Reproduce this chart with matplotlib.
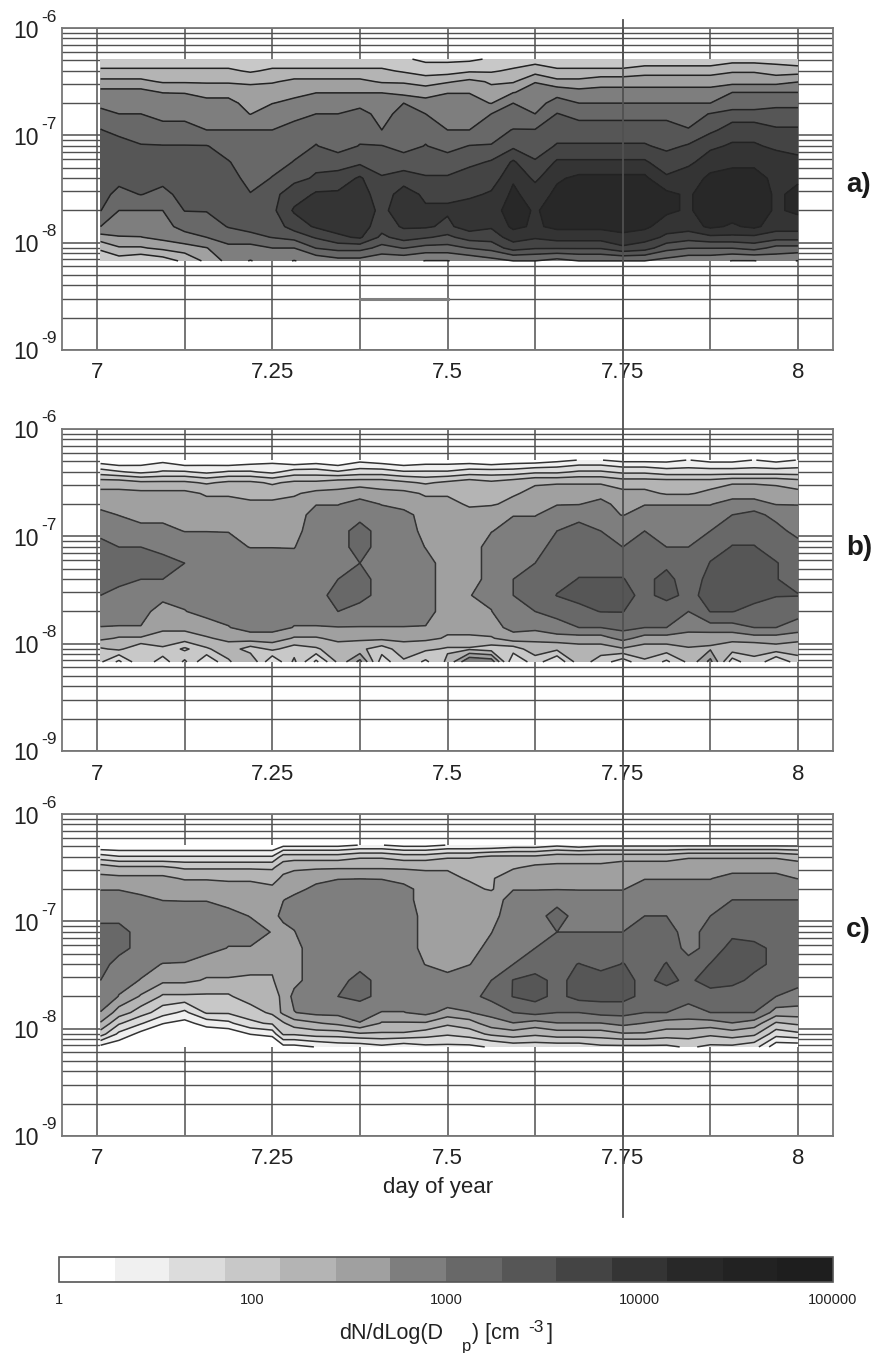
"""Size distribution contour panels, day 7 to 8."""

import matplotlib
import matplotlib.pyplot as plt
import numpy as np
from matplotlib.cm import ScalarMappable
from matplotlib.colors import BoundaryNorm, ListedColormap
from matplotlib.lines import Line2D
from matplotlib.ticker import LogLocator, NullFormatter
from matplotlib.transforms import blended_transform_factory

matplotlib.use("Agg")

plt.rcParams["font.family"] = ["Liberation Sans", "DejaVu Sans"]

W, H = 876, 1353

TIMES = [7.005, 7.03125, 7.0625, 7.09375, 7.125, 7.15625, 7.1875, 7.21875, 7.25,
         7.28125, 7.3125, 7.34375, 7.375, 7.40625, 7.4375, 7.46875, 7.5,
         7.53125, 7.5625, 7.59375, 7.625, 7.65625, 7.6875, 7.71875, 7.75,
         7.78125, 7.8125, 7.84375, 7.875, 7.90625, 7.9375, 7.96875, 8.0]
# panel c has a jump just after 7.25
TIMES_C = TIMES[:9] + [7.2656] + TIMES[9:]

LOG_DIAMETERS = [-6.29, -6.40, -6.50, -6.60, -6.70, -6.80, -6.95, -7.10,
                 -7.25, -7.40, -7.55, -7.70, -7.85, -7.95, -8.05, -8.17]

# log10(dN/dLogDp), one list per time, largest diameter first
PANEL_A = [
    [1.9, 2.2, 2.5, 2.8, 2.9, 3.1, 3.3, 3.5, 3.5, 3.5, 3.4, 3.3, 3.0, 2.6, 2.2, 1.9],
    [1.9, 2.2, 2.5, 2.8, 2.9, 3.0, 3.2, 3.4, 3.4, 3.4, 3.2, 3.0, 2.8, 2.7, 2.4, 2.0],
    [1.9, 2.2, 2.5, 2.8, 2.9, 3.0, 3.2, 3.3, 3.4, 3.4, 3.3, 3.0, 2.9, 2.7, 2.4, 1.9],
    [1.9, 2.2, 2.4, 2.7, 2.9, 2.9, 3.1, 3.3, 3.4, 3.4, 3.2, 3.0, 2.9, 2.8, 2.5, 2.0],
    [1.9, 2.2, 2.4, 2.7, 2.8, 2.9, 3.1, 3.3, 3.4, 3.4, 3.4, 3.3, 3.1, 2.9, 2.6, 2.2],
    [1.9, 2.2, 2.4, 2.6, 2.8, 2.9, 3.0, 3.3, 3.4, 3.4, 3.4, 3.3, 3.2, 3.0, 2.7, 2.5],
    [1.9, 2.2, 2.4, 2.6, 2.8, 2.9, 3.0, 3.2, 3.3, 3.4, 3.4, 3.4, 3.3, 3.2, 2.9, 2.8],
    [1.9, 2.1, 2.4, 2.5, 2.6, 2.7, 3.0, 3.1, 3.2, 3.2, 3.3, 3.4, 3.4, 3.2, 2.9, 2.7],
    [1.9, 2.2, 2.4, 2.6, 2.7, 2.9, 3.0, 3.2, 3.2, 3.3, 3.5, 3.5, 3.4, 3.3, 3.0, 2.8],
    [1.9, 2.2, 2.5, 2.6, 2.8, 2.9, 3.1, 3.2, 3.3, 3.5, 3.7, 3.9, 3.7, 3.4, 3.0, 2.7],
    [1.9, 2.2, 2.5, 2.7, 2.9, 3.0, 3.2, 3.3, 3.5, 3.6, 3.9, 4.0, 3.9, 3.6, 3.3, 2.8],
    [1.9, 2.2, 2.5, 2.7, 2.9, 3.0, 3.1, 3.2, 3.4, 3.7, 3.9, 4.0, 4.0, 3.8, 3.4, 2.9],
    [1.9, 2.2, 2.5, 2.7, 2.9, 3.1, 3.2, 3.3, 3.5, 3.9, 4.0, 4.0, 4.0, 3.9, 3.4, 2.9],
    [1.9, 2.2, 2.4, 2.7, 2.9, 2.9, 3.0, 3.3, 3.4, 3.6, 3.7, 3.8, 3.7, 3.5, 3.2, 2.8],
    [1.9, 2.1, 2.4, 2.6, 3.0, 3.1, 3.2, 3.2, 3.4, 3.7, 4.0, 4.0, 3.9, 3.7, 3.3, 2.8],
    [1.8, 2.0, 2.3, 2.6, 2.8, 3.0, 3.2, 3.3, 3.4, 3.6, 3.8, 3.9, 3.9, 3.6, 3.2, 2.7],
    [1.8, 2.0, 2.4, 2.7, 2.8, 2.9, 3.0, 3.2, 3.4, 3.6, 3.8, 3.9, 3.8, 3.5, 3.2, 2.7],
    [1.8, 2.1, 2.5, 2.7, 2.8, 2.9, 3.0, 3.3, 3.5, 3.7, 3.8, 4.0, 4.0, 3.7, 3.3, 2.8],
    [1.9, 2.1, 2.4, 2.5, 2.7, 3.0, 3.2, 3.3, 3.6, 3.7, 3.9, 4.0, 3.9, 3.7, 3.4, 2.9],
    [1.9, 2.2, 2.4, 2.7, 3.0, 3.1, 3.3, 3.5, 3.9, 4.1, 4.2, 4.3, 4.2, 4.0, 3.7, 3.0],
    [2.0, 2.3, 2.7, 2.8, 2.9, 3.0, 3.3, 3.4, 3.6, 3.8, 4.0, 4.1, 4.1, 3.9, 3.6, 3.0],
    [1.9, 2.2, 2.5, 2.9, 3.1, 3.3, 3.4, 3.6, 3.9, 4.1, 4.2, 4.3, 4.2, 4.0, 3.6, 2.9],
    [1.9, 2.2, 2.5, 2.8, 3.0, 3.2, 3.4, 3.6, 3.9, 4.2, 4.3, 4.3, 4.2, 4.0, 3.6, 3.0],
    [1.9, 2.2, 2.6, 2.8, 3.0, 3.2, 3.4, 3.6, 3.9, 4.2, 4.3, 4.3, 4.2, 4.0, 3.6, 3.0],
    [1.9, 2.2, 2.6, 2.8, 3.0, 3.2, 3.4, 3.6, 3.9, 4.2, 4.3, 4.3, 4.2, 4.1, 3.8, 3.0],
    [1.9, 2.3, 2.6, 2.8, 3.0, 3.2, 3.4, 3.6, 3.9, 4.2, 4.3, 4.3, 4.2, 4.0, 3.7, 3.0],
    [1.9, 2.3, 2.6, 2.8, 3.0, 3.2, 3.4, 3.5, 3.7, 3.9, 4.2, 4.2, 4.0, 3.8, 3.4, 2.9],
    [1.9, 2.3, 2.6, 2.8, 3.0, 3.2, 3.3, 3.6, 3.8, 4.0, 4.1, 4.1, 4.0, 3.7, 3.3, 2.8],
    [1.9, 2.3, 2.6, 2.8, 3.0, 3.3, 3.5, 3.8, 4.0, 4.2, 4.3, 4.3, 4.2, 3.8, 3.3, 2.8],
    [2.0, 2.4, 2.6, 3.0, 3.1, 3.4, 3.7, 3.9, 4.1, 4.2, 4.3, 4.3, 4.1, 3.8, 3.3, 2.7],
    [2.0, 2.4, 2.6, 3.0, 3.1, 3.4, 3.7, 3.9, 4.1, 4.2, 4.3, 4.3, 4.2, 3.8, 3.4, 2.7],
    [2.0, 2.3, 2.6, 3.0, 3.2, 3.4, 3.6, 3.8, 4.0, 4.1, 4.1, 4.1, 4.0, 3.7, 3.2, 2.8],
    [1.9, 2.3, 2.7, 3.0, 3.2, 3.4, 3.6, 3.8, 3.9, 4.1, 4.2, 4.2, 4.0, 3.7, 3.2, 2.7],
]

PANEL_B = [
    [1.1, 1.7, 2.3, 2.5, 2.6, 2.8, 2.9, 3.1, 3.2, 3.2, 3.0, 2.9, 2.7, 2.5, 2.1, 1.9],
    [1.0, 1.6, 2.3, 2.5, 2.6, 2.7, 2.9, 3.0, 3.1, 3.1, 2.9, 2.8, 2.7, 2.4, 2.2, 1.5],
    [1.1, 1.5, 2.2, 2.5, 2.6, 2.6, 2.8, 3.0, 3.1, 3.0, 2.9, 2.8, 2.7, 2.4, 1.9, 2.1],
    [1.2, 1.6, 2.2, 2.5, 2.6, 2.6, 2.8, 2.9, 3.1, 3.0, 2.8, 2.6, 2.5, 2.3, 2.1, 1.7],
    [1.0, 1.6, 2.2, 2.5, 2.6, 2.6, 2.7, 2.9, 3.0, 3.0, 2.8, 2.7, 2.5, 2.3, 1.8, 2.2],
    [1.1, 1.5, 2.1, 2.4, 2.5, 2.6, 2.7, 2.9, 3.0, 3.0, 2.9, 2.8, 2.6, 2.4, 2.1, 1.6],
    [1.0, 1.6, 2.2, 2.4, 2.5, 2.6, 2.7, 2.8, 2.9, 3.0, 2.9, 2.8, 2.7, 2.5, 2.3, 2.1],
    [1.1, 1.6, 2.2, 2.3, 2.5, 2.6, 2.6, 2.7, 2.9, 2.9, 2.9, 2.8, 2.8, 2.6, 2.0, 2.4],
    [1.2, 1.5, 2.1, 2.3, 2.5, 2.6, 2.6, 2.7, 2.9, 2.9, 2.9, 2.9, 2.8, 2.6, 2.2, 1.6],
    [1.0, 1.7, 2.2, 2.4, 2.5, 2.6, 2.6, 2.7, 2.8, 2.9, 2.9, 2.8, 2.7, 2.4, 2.0, 2.2],
    [1.1, 1.7, 2.2, 2.5, 2.7, 2.8, 2.9, 2.9, 2.9, 2.9, 2.9, 2.8, 2.7, 2.4, 2.1, 1.5],
    [1.0, 1.6, 2.3, 2.5, 2.7, 2.8, 2.9, 2.9, 2.9, 3.0, 3.1, 3.0, 2.7, 2.5, 2.3, 2.2],
    [1.2, 1.7, 2.3, 2.6, 2.8, 2.9, 3.1, 3.1, 3.0, 3.1, 3.1, 2.9, 2.7, 2.5, 2.2, 2.8],
    [1.1, 1.7, 2.3, 2.5, 2.7, 2.8, 2.9, 2.9, 2.9, 2.9, 2.9, 2.9, 2.7, 2.5, 2.0, 1.7],
    [1.0, 1.6, 2.2, 2.5, 2.6, 2.8, 2.9, 2.9, 2.9, 2.9, 2.9, 2.9, 2.7, 2.5, 2.3, 2.1],
    [1.1, 1.6, 2.1, 2.4, 2.5, 2.6, 2.6, 2.7, 2.8, 2.8, 2.8, 2.8, 2.7, 2.5, 2.2, 1.8],
    [1.1, 1.6, 2.2, 2.4, 2.5, 2.5, 2.6, 2.6, 2.6, 2.6, 2.6, 2.6, 2.5, 2.4, 2.1, 2.2],
    [1.1, 1.7, 2.3, 2.4, 2.4, 2.5, 2.6, 2.6, 2.6, 2.6, 2.7, 2.7, 2.5, 2.4, 2.1, 3.0],
    [1.0, 1.7, 2.2, 2.3, 2.4, 2.6, 2.7, 2.8, 2.8, 2.8, 2.8, 2.7, 2.6, 2.4, 2.0, 2.9],
    [1.1, 1.7, 2.3, 2.4, 2.5, 2.7, 2.8, 2.9, 3.0, 3.0, 3.0, 3.0, 2.8, 2.6, 2.0, 1.6],
    [1.1, 1.8, 2.4, 2.5, 2.6, 2.7, 2.8, 2.9, 3.0, 3.1, 3.1, 3.0, 2.8, 2.5, 2.3, 2.0],
    [1.2, 1.8, 2.4, 2.6, 2.7, 2.8, 3.0, 3.1, 3.1, 3.2, 3.3, 3.1, 2.9, 2.6, 2.2, 1.6],
    [1.3, 1.9, 2.4, 2.6, 2.7, 2.9, 3.1, 3.2, 3.2, 3.3, 3.4, 3.2, 3.0, 2.6, 2.3, 2.3],
    [1.3, 1.9, 2.4, 2.6, 2.8, 2.8, 3.0, 3.1, 3.2, 3.3, 3.4, 3.3, 3.0, 2.6, 2.3, 2.0],
    [1.2, 1.8, 2.3, 2.5, 2.6, 2.7, 2.9, 3.0, 3.2, 3.3, 3.4, 3.3, 3.1, 2.8, 2.4, 1.7],
    [1.2, 1.8, 2.3, 2.5, 2.7, 2.8, 3.0, 3.1, 3.2, 3.2, 3.2, 3.1, 3.0, 2.6, 2.3, 2.1],
    [1.2, 1.7, 2.3, 2.4, 2.7, 2.8, 2.9, 3.0, 3.2, 3.4, 3.4, 3.1, 3.0, 2.6, 2.3, 1.8],
    [1.3, 1.7, 2.3, 2.4, 2.7, 2.8, 2.9, 3.0, 3.1, 3.1, 3.2, 3.0, 2.8, 2.6, 2.4, 2.2],
    [1.2, 1.7, 2.3, 2.5, 2.7, 2.8, 3.0, 3.2, 3.3, 3.4, 3.4, 3.3, 2.9, 2.5, 2.4, 2.8],
    [1.2, 1.7, 2.4, 2.6, 2.8, 3.0, 3.2, 3.3, 3.4, 3.4, 3.4, 3.3, 2.9, 2.5, 2.3, 1.7],
    [1.3, 1.7, 2.4, 2.6, 2.8, 3.1, 3.2, 3.3, 3.4, 3.4, 3.4, 3.2, 3.0, 2.6, 2.2, 2.1],
    [1.2, 1.7, 2.4, 2.5, 2.7, 2.9, 3.1, 3.2, 3.3, 3.3, 3.3, 3.2, 3.0, 2.6, 2.3, 1.6],
    [1.3, 1.7, 2.3, 2.5, 2.7, 2.8, 2.9, 3.1, 3.2, 3.2, 3.3, 3.1, 2.9, 2.5, 2.3, 2.0],
]

PANEL_C = [
    [1.0, 1.7, 2.3, 2.5, 2.7, 2.8, 2.9, 3.1, 3.2, 3.1, 3.0, 2.9, 2.7, 2.4, 2.0, 1.2],
    [1.0, 1.6, 2.2, 2.5, 2.7, 2.8, 2.9, 3.1, 3.1, 2.9, 2.8, 2.7, 2.3, 1.9, 1.5, 1.1],
    [1.0, 1.6, 2.2, 2.5, 2.6, 2.8, 2.9, 2.9, 2.9, 2.8, 2.7, 2.4, 2.0, 1.6, 1.2, 1.0],
    [1.0, 1.6, 2.2, 2.5, 2.6, 2.7, 2.9, 2.9, 2.9, 2.7, 2.5, 2.1, 1.7, 1.3, 1.1, 0.9],
    [1.0, 1.6, 2.1, 2.4, 2.6, 2.7, 2.8, 2.9, 2.8, 2.7, 2.5, 2.1, 1.5, 1.2, 1.1, 0.9],
    [1.0, 1.6, 2.1, 2.4, 2.6, 2.7, 2.8, 2.9, 2.8, 2.6, 2.4, 2.1, 1.9, 1.4, 1.1, 0.9],
    [1.0, 1.6, 2.1, 2.4, 2.5, 2.6, 2.8, 2.8, 2.7, 2.6, 2.4, 2.1, 1.9, 1.5, 1.1, 0.9],
    [1.0, 1.6, 2.1, 2.4, 2.5, 2.6, 2.7, 2.8, 2.7, 2.5, 2.4, 2.3, 2.0, 1.8, 1.3, 0.9],
    [1.0, 1.6, 2.1, 2.3, 2.5, 2.6, 2.6, 2.7, 2.6, 2.5, 2.4, 2.3, 2.2, 1.9, 1.4, 0.9],
    [1.2, 2.0, 2.3, 2.5, 2.6, 2.7, 2.8, 2.6, 2.6, 2.6, 2.6, 2.5, 2.5, 2.1, 1.9, 1.2],
    [1.2, 2.0, 2.4, 2.5, 2.6, 2.8, 2.8, 2.7, 2.6, 2.6, 2.6, 2.8, 2.7, 2.3, 1.9, 1.2],
    [1.2, 2.0, 2.4, 2.6, 2.8, 2.9, 2.9, 2.9, 2.9, 2.9, 2.9, 2.9, 2.8, 2.4, 2.0, 1.3],
    [1.2, 2.0, 2.4, 2.7, 2.8, 2.9, 2.9, 2.9, 2.9, 2.9, 2.9, 3.0, 2.8, 2.5, 2.0, 1.4],
    [1.3, 2.1, 2.4, 2.7, 2.9, 2.9, 2.9, 2.9, 2.9, 2.9, 3.1, 3.1, 2.8, 2.7, 2.1, 1.4],
    [1.3, 2.1, 2.4, 2.7, 2.8, 2.9, 2.9, 2.9, 2.9, 2.9, 2.9, 2.9, 2.7, 2.4, 2.1, 1.5],
    [1.2, 2.0, 2.4, 2.6, 2.8, 2.8, 2.9, 2.9, 2.9, 2.9, 2.9, 2.9, 2.7, 2.4, 2.1, 1.4],
    [1.2, 2.0, 2.4, 2.5, 2.6, 2.6, 2.6, 2.6, 2.6, 2.7, 2.9, 2.9, 2.8, 2.4, 2.0, 1.5],
    [1.3, 2.1, 2.4, 2.5, 2.6, 2.6, 2.6, 2.6, 2.6, 2.6, 2.8, 3.0, 2.6, 2.2, 1.9, 1.5],
    [1.3, 2.1, 2.4, 2.4, 2.5, 2.6, 2.6, 2.6, 2.6, 2.7, 2.9, 2.9, 2.7, 2.3, 2.0, 1.5],
    [1.3, 2.2, 2.3, 2.4, 2.4, 2.6, 2.6, 2.7, 2.8, 2.9, 3.0, 3.1, 2.8, 2.6, 2.2, 1.6],
    [1.4, 2.2, 2.4, 2.6, 2.7, 2.8, 2.9, 3.0, 2.9, 3.0, 3.3, 3.3, 3.0, 2.7, 2.3, 1.7],
    [1.4, 2.2, 2.5, 2.6, 2.7, 2.8, 2.9, 2.9, 3.0, 3.1, 3.4, 3.4, 3.1, 2.6, 2.2, 1.7],
    [1.5, 2.3, 2.5, 2.6, 2.7, 2.9, 3.1, 3.0, 3.1, 3.2, 3.2, 3.2, 3.0, 2.7, 2.3, 1.7],
    [1.4, 2.3, 2.5, 2.7, 2.7, 2.8, 2.9, 3.0, 3.1, 3.3, 3.4, 3.4, 3.0, 2.7, 2.3, 1.7],
    [1.5, 2.3, 2.5, 2.6, 2.7, 2.8, 2.9, 3.0, 3.2, 3.2, 3.4, 3.4, 3.1, 2.7, 2.3, 1.8],
    [1.5, 2.3, 2.6, 2.6, 2.7, 2.8, 2.9, 3.0, 3.2, 3.3, 3.4, 3.4, 3.1, 2.8, 2.4, 1.8],
    [1.5, 2.3, 2.6, 2.7, 2.8, 2.9, 3.0, 3.1, 3.2, 3.2, 3.2, 3.2, 3.0, 2.7, 2.4, 1.8],
    [1.5, 2.3, 2.6, 2.7, 2.8, 2.9, 3.0, 3.1, 3.2, 3.3, 3.4, 3.1, 3.0, 2.6, 2.3, 1.8],
    [1.5, 2.4, 2.6, 2.7, 2.8, 2.8, 2.9, 2.9, 2.9, 3.1, 3.2, 3.1, 2.9, 2.6, 2.3, 1.9],
    [1.5, 2.4, 2.6, 2.7, 2.8, 2.9, 3.0, 3.1, 3.1, 3.3, 3.5, 3.1, 3.0, 2.6, 2.2, 1.8],
    [1.5, 2.4, 2.6, 2.8, 2.9, 3.0, 3.1, 3.2, 3.4, 3.4, 3.4, 3.1, 3.0, 2.7, 2.3, 1.8],
    [1.5, 2.4, 2.6, 2.8, 2.9, 3.0, 3.1, 3.1, 3.4, 3.4, 3.2, 3.1, 3.0, 2.6, 2.2, 1.7],
    [1.5, 2.4, 2.6, 2.8, 2.9, 3.0, 3.1, 3.1, 3.2, 3.2, 3.1, 3.0, 2.6, 2.1, 1.7, 1.1],
    [1.5, 2.3, 2.6, 2.7, 2.9, 3.0, 3.1, 3.1, 3.2, 3.2, 3.1, 2.9, 2.6, 2.2, 1.8, 1.1],
]

X_TICKS = [7, 7.125, 7.25, 7.375, 7.5, 7.625, 7.75, 7.875, 8]
X_LABELS = ["7", "", "7.25", "", "7.5", "", "7.75", "", "8"]
Y_EXPONENTS = [-6, -7, -8, -9]
PANEL_NAMES = ["a)", "b)", "c)"]

BAND_EDGES = [1.0, 1.29, 1.57, 1.86, 2.14, 2.43, 2.71, 3.0, 3.29, 3.57, 3.86, 4.14, 4.43, 4.71, 5.0]
BAND_GREYS = ["#ffffff", "#f0f0f0", "#dcdcdc", "#c8c8c8", "#b4b4b4", "#a0a0a0", "#7e7e7e",
              "#686868", "#565656", "#444444", "#343434", "#282828", "#222222", "#1e1e1e"]
BAR_TICKS = [1, 2, 3, 4, 5]
BAR_LABELS = ["1", "100", "1000", "10000", "100000"]

LINE_GREY = "#505050"


def px_axes(fig, left, top, right, bottom):
    """Axes placed with pixel edges counted from the top left."""
    return fig.add_axes([left / W, 1 - bottom / H, (right - left) / W, (bottom - top) / H])


def fig_text(fig, x, y, s, **kwargs):
    kwargs.setdefault("ha", "left")
    kwargs.setdefault("va", "center")
    kwargs.setdefault("color", "#222222")
    return fig.text(x / W, 1 - y / H, s, **kwargs)


fig = plt.figure(figsize=(W / 100, H / 100), dpi=100)

cmap = ListedColormap(BAND_GREYS)
cmap.set_under("#ffffff")
norm = BoundaryNorm(BAND_EDGES, cmap.N)
diameters = 10.0 ** np.array(LOG_DIAMETERS)

panels = [
    (PANEL_A, TIMES, 28, 350, 185, "#222222"),
    (PANEL_B, TIMES, 429, 751, 548, "#333333"),
    (PANEL_C, TIMES_C, 814, 1136, 930, "#333333"),
]

axes = []
for (values, times, top, bottom, name_y, line_col), name in zip(panels, PANEL_NAMES):
    ax = px_axes(fig, 62, top, 833, bottom)
    axes.append(ax)
    z = np.array(values).T
    ax.contourf(times, diameters, z, levels=BAND_EDGES, cmap=cmap, norm=norm, extend="min", zorder=3)
    ax.contour(times, diameters, z, levels=BAND_EDGES[1:], colors=line_col, linewidths=1.1, zorder=4)

    ax.set_yscale("log")
    ax.set_xlim(6.95, 8.05)
    ax.set_ylim(1e-9, 1e-6)
    ax.set_xticks(X_TICKS)
    ax.set_xticklabels(X_LABELS, fontsize=16, color="#222222")
    ax.set_yticks([10.0**e for e in Y_EXPONENTS])
    ax.yaxis.set_major_formatter(NullFormatter())
    ax.yaxis.set_minor_formatter(NullFormatter())
    ax.yaxis.set_minor_locator(LogLocator(base=10, subs=range(2, 10), numticks=12))
    ax.tick_params(which="both", length=0)
    ax.tick_params(axis="x", pad=9)
    ax.grid(True, which="major", color=LINE_GREY, linewidth=1.1, zorder=1)
    ax.grid(True, which="minor", axis="y", color=LINE_GREY, linewidth=1.0, zorder=1)
    ax.set_axisbelow(True)
    for spine in ax.spines.values():
        spine.set_color("#777777")
        spine.set_linewidth(1.3)

    for e in Y_EXPONENTS:
        offset = (-6 - e) * 107.3
        fig_text(fig, 13, top + offset + 3, "10", fontsize=16.5)
        fig_text(fig, 41, top + offset - 11, str(e), fontsize=12.5)

    fig_text(fig, 846, name_y, name, fontsize=20, fontweight="bold", color="#1a1a1a")

# stray stroke on the scanned first panel
axes[0].plot([7.375, 7.5], [3e-9, 3e-9], color="#808080", linewidth=2.2, zorder=2)

# the long vertical marker runs over all panels
marker_trans = blended_transform_factory(axes[0].transData, fig.transFigure)
fig.add_artist(Line2D([7.75, 7.75], [1 - 20 / H, 1 - 1217 / H], transform=marker_trans,
                      color="#505050", linewidth=1.3, zorder=10))

fig_text(fig, 438, 1187, "day of year", ha="center", fontsize=16)

cax = px_axes(fig, 59, 1257, 833, 1282)
bar = fig.colorbar(ScalarMappable(norm=norm, cmap=cmap), cax=cax, orientation="horizontal",
                   spacing="proportional")
bar.set_ticks(BAR_TICKS)
bar.set_ticklabels(BAR_LABELS, fontsize=10.5, color="#222222")
bar.ax.tick_params(length=0, pad=8)
bar.ax.minorticks_off()
bar.outline.set_edgecolor("#555555")
bar.outline.set_linewidth(1.2)

fig_text(fig, 339, 1333, "dN/dLog(D", fontsize=15.5)
fig_text(fig, 462, 1347, "p", fontsize=12)
fig_text(fig, 472, 1333, ") [cm", fontsize=15.5)
fig_text(fig, 528, 1327, "-3", fontsize=12.5)
fig_text(fig, 547, 1333, "]", fontsize=15.5)

fig.savefig("out.png", dpi=100)
plt.close(fig)
